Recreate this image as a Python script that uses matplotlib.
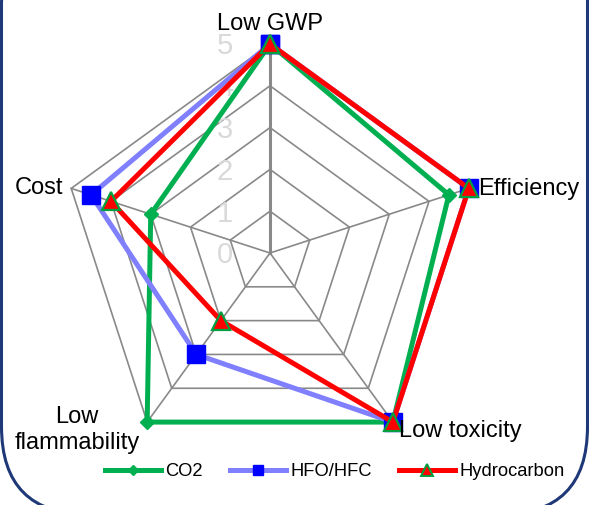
import numpy as np
import matplotlib
matplotlib.use('Agg')
import matplotlib.pyplot as plt
from matplotlib.patches import FancyBboxPatch
from matplotlib.lines import Line2D

plt.rcParams['font.family'] = ['Liberation Sans', 'DejaVu Sans']

# Data
categories = ['Low GWP', 'Efficiency', 'Low toxicity', 'Low\nflammability', 'Cost']
co2 = [5, 4.5, 5, 5, 3]
hfo_hfc = [5, 5, 5, 3, 4.5]
hydrocarbon = [5, 5, 5, 2, 4]
series_names = ['CO2', 'HFO/HFC', 'Hydrocarbon']
scale_ticks = [0, 1, 2, 3, 4, 5]

W, H = 589, 505
fig = plt.figure(figsize=(W / 100, H / 100), dpi=100)
fig.patch.set_facecolor('white')

# Radar area (pixel geometry of the plot circle)
cx, cy, R = 270, 253, 209
ax = fig.add_axes([(cx - R) / W, (H - cy - R) / H, 2 * R / W, 2 * R / H],
                  projection='polar')
ax.set_theta_offset(np.pi / 2)
ax.set_theta_direction(-1)
ax.set_ylim(0, scale_ticks[-1])
ax.grid(False)
ax.set_xticks([])
ax.set_yticks([])
ax.spines['polar'].set_visible(False)
ax.patch.set_visible(False)

n = len(categories)
theta = np.arange(n) * 2 * np.pi / n
closed_t = np.append(theta, theta[0])

# Pentagon grid and spokes
grid_color = '#898989'
for lvl in scale_ticks[1:]:
    ax.plot(closed_t, [lvl] * (n + 1), color=grid_color, lw=1.2,
            zorder=1, clip_on=False)
for i, t in enumerate(theta):
    ax.plot([t, t], [0, scale_ticks[-1]], color=grid_color,
            lw=2.2 if i == 0 else 1.2, zorder=1, clip_on=False)

# Value scale labels along the vertical axis
for v in scale_ticks:
    ax.annotate(str(v), xy=(0, v), xytext=(-32.4, -7.5),
                textcoords='offset points', ha='center', va='baseline',
                fontsize=21, color='#d9d9d9', zorder=2)

# Series
series = [co2, hfo_hfc, hydrocarbon]
styles = [
    dict(color='#00B050', marker='D', ms=7.5, mfc='#00B050', mec='#00B050'),
    dict(color='#8080FF', marker='s', ms=13.5, mfc='#0000FF', mec='#0000FF'),
    dict(color='#FF0000', marker='^', ms=13, mfc='#FF0000', mec='#00A040',
         mew=1.6),
]
for k, (vals, st) in enumerate(zip(series, styles)):
    ax.plot(closed_t, list(vals) + [vals[0]], lw=3.6, zorder=3 + k,
            clip_on=False, solid_joinstyle='miter', **st)

# Category labels
label_pos = [
    dict(off=(0, 10.1), ha='center', va='baseline'),
    dict(off=(6.5, -5.0), ha='left', va='baseline'),
    dict(off=(4.3, -10.8), ha='left', va='baseline'),
    dict(off=(-50.4, -5.5), ha='center', va='center'),
    dict(off=(-5.8, -4.3), ha='right', va='baseline'),
]
for t, name, p in zip(theta, categories, label_pos):
    ax.annotate(name, xy=(t, scale_ticks[-1]), xytext=p['off'],
                textcoords='offset points', ha=p['ha'], va=p['va'],
                multialignment='center', fontsize=17, color='black',
                zorder=10, linespacing=1.22)

# Legend
handles = [
    Line2D([], [], color='#00B050', lw=3.6, marker='D', ms=5,
           mfc='#00B050', mec='#00B050'),
    Line2D([], [], color='#8080FF', lw=3.6, marker='s', ms=7.2,
           mfc='#0000FF', mec='#0000FF'),
    Line2D([], [], color='#FF0000', lw=3.6, marker='^', ms=8.5,
           mfc='#FF0000', mec='#00A040', mew=1.4),
]
fig.legend(handles, series_names, loc='center',
           bbox_to_anchor=(335 / W, (H - 472) / H), ncol=3, frameon=False,
           fontsize=13.2, handlelength=3.05, handletextpad=0.22,
           columnspacing=1.5, borderpad=0, borderaxespad=0)

# Rounded border
frame = FancyBboxPatch((0.015, -0.096), 5.86, 6.0,
                       boxstyle='round,pad=0,rounding_size=0.88',
                       transform=fig.dpi_scale_trans, fill=False,
                       ec='#1f3878', lw=2.2)
fig.patches.append(frame)

fig.savefig('out.png', dpi=100)
